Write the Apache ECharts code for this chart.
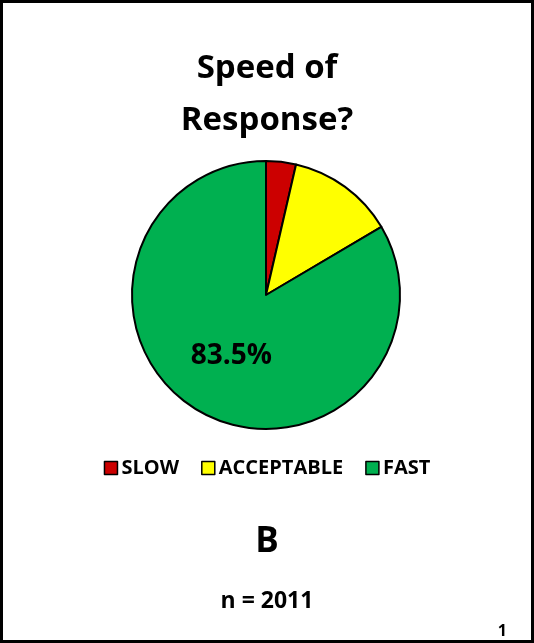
<!DOCTYPE html>
<html>
<head>
<meta charset="utf-8">
<script src="https://cdn.jsdelivr.net/npm/echarts@6/dist/echarts.min.js"></script>
<style>
	html, body { margin: 0; padding: 0; background: #fff; }
	#main { width: 534px; height: 643px; }
</style>
</head>
<body>
<div id="main"></div>
<script>
	// slices, clockwise from 12 o'clock
	var categories = ['SLOW', 'ACCEPTABLE', 'FAST'];
	var values = [3.6, 12.9, 83.5];
	var colors = ['#cc0000', '#ffff00', '#00b050'];
	var labelShown = [false, false, true];

	var font = '"Open Sans", "Liberation Sans", sans-serif';

	var myChart = echarts.init(document.getElementById('main'));

	var pieData = [];
	for (let i = 0; i < categories.length; i++) {
		pieData.push({
			name: categories[i],
			value: values[i],
			itemStyle: { color: colors[i] },
			label: { show: labelShown[i] }
		});
	}

	var option = {
		animation: false,
		title: [{
			text: 'Speed of\nResponse?',
			left: 'center',
			top: 38,
			textStyle: {
				fontFamily: font,
				fontSize: 33,
				fontWeight: 'bold',
				color: '#000',
				lineHeight: 52
			}
		}, {
			text: 'B',
			left: 'center',
			top: 520,
			textStyle: { fontFamily: font, fontSize: 35, fontWeight: 'bold', color: '#000' }
		}, {
			text: 'n = 2011',
			left: 'center',
			top: 585,
			textStyle: { fontFamily: font, fontSize: 23, fontWeight: 'bold', color: '#000' }
		}, {
			text: '1',
			right: 22,
			top: 618,
			textStyle: { fontFamily: font, fontSize: 16, fontWeight: 'bold', color: '#000' }
		}],
		legend: {
			data: categories,
			left: 'center',
			top: 453,
			icon: 'rect',
			itemWidth: 13,
			itemHeight: 13,
			itemGap: 22,
			itemStyle: { borderColor: '#000', borderWidth: 1.5 },
			textStyle: { fontFamily: font, fontSize: 20, fontWeight: 'bold', color: '#000', padding: [0, 0, 0, -1] }
		},
		graphic: [{
			type: 'rect',
			shape: { x: 1.5, y: 1.5, width: 531, height: 640 },
			style: { fill: null, stroke: '#000', lineWidth: 3 },
			silent: true
		}],
		series: [{
			name: 'Speed of Response?',
			type: 'pie',
			center: [266, 295],
			radius: 134,
			startAngle: 90,
			clockwise: true,
			data: pieData,
			itemStyle: { borderColor: '#000', borderWidth: 2 },
			label: {
				position: 'inside',
				formatter: function (p) { return p.value.toFixed(1) + '%'; },
				fontFamily: font,
				fontSize: 28,
				fontWeight: 'bold',
				color: '#000'
			},
			labelLine: { show: false },
			emphasis: { disabled: true }
		}]
	};

	option && myChart.setOption(option);
</script>
</body>
</html>
